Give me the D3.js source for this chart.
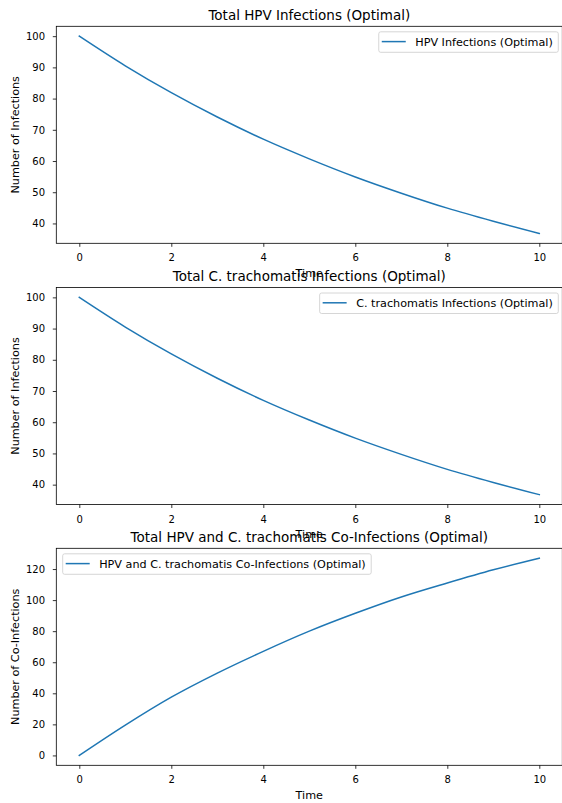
<!DOCTYPE html>
<html lang="en">
<head>
<meta charset="utf-8">
<title>Optimal infections</title>
<script src="https://d3js.org/d3.v7.min.js"></script>
<style>
  body { margin: 0; background: #fff; }
  text { font-family: "DejaVu Sans", sans-serif; fill: #000; }
</style>
</head>
<body>
<script>
// values
var times = [0, 1, 2, 3, 4, 5, 6, 7, 8, 9, 10];
var hpvValues = [100, 90.5, 81.9, 74.1, 67.0, 60.7, 54.9, 49.7, 44.9, 40.7, 36.8];
var ctValues = [100, 90.5, 81.9, 74.1, 67.0, 60.7, 54.9, 49.7, 44.9, 40.7, 36.8];
var coValues = [0, 19.5, 37.5, 53.0, 67.0, 80.0, 91.5, 102.0, 111.0, 119.5, 127.0];

var xTicks = [0, 2, 4, 6, 8, 10];
var infTicks = [40, 50, 60, 70, 80, 90, 100];
var coTicks = [0, 20, 40, 60, 80, 100, 120];

var titles = ["Total HPV Infections (Optimal)",
              "Total C. trachomatis Infections (Optimal)",
              "Total HPV and C. trachomatis Co-Infections (Optimal)"];
var legendLabels = ["HPV Infections (Optimal)",
                    "C. trachomatis Infections (Optimal)",
                    "HPV and C. trachomatis Co-Infections (Optimal)"];
var yLabels = ["Number of Infections", "Number of Infections", "Number of Co-Infections"];

var width = 562, height = 803;
var left = 56.3, right = 562.3, panelH = 217;
var tops = [26.3, 287.5, 548.3];
var blue = "#1f77b4";
var labelSize = 11.2, titleSize = 13.5, tickSize = 10;

var svg = d3.select("body").append("svg")
    .attr("width", width)
    .attr("height", height);

var panels = [
  { values: hpvValues, ticks: infTicks, legend: "right" },
  { values: ctValues, ticks: infTicks, legend: "right" },
  { values: coValues, ticks: coTicks, legend: "left" }
];

var x = d3.scaleLinear().domain([-0.5, 10.5]).range([left, right]);

panels.forEach(function(p, i) {
  var top = tops[i], bottom = top + panelH;
  var ext = d3.extent(p.values), pad = (ext[1] - ext[0]) * 0.05;
  var y = d3.scaleLinear().domain([ext[0] - pad, ext[1] + pad]).range([bottom, top]);

  var g = svg.append("g");

  // the curve
  var line = d3.line()
      .x(function(d, j) { return x(times[j]); })
      .y(function(d) { return y(d); })
      .curve(d3.curveMonotoneX);

  g.append("path")
      .datum(p.values)
      .attr("fill", "none")
      .attr("stroke", blue)
      .attr("stroke-width", 1.5)
      .attr("stroke-linecap", "square")
      .attr("d", line);

  // axes
  var xAxis = g.append("g")
      .attr("transform", "translate(0," + bottom + ")")
      .call(d3.axisBottom(x).tickValues(xTicks).tickSize(3.5).tickPadding(7.5).tickFormat(d3.format("d")));
  var yAxis = g.append("g")
      .attr("transform", "translate(" + left + ",0)")
      .call(d3.axisLeft(y).tickValues(p.ticks).tickSize(3.5).tickPadding(7.8).tickFormat(d3.format("d")));

  [xAxis, yAxis].forEach(function(a) {
    a.select(".domain").remove();
    a.selectAll("line").attr("stroke", "#000").attr("stroke-width", 0.8);
    a.selectAll("text").attr("font-family", "DejaVu Sans").attr("font-size", tickSize).attr("fill", "#000");
  });

  // spines
  g.append("rect")
      .attr("x", left).attr("y", top)
      .attr("width", right - left).attr("height", panelH)
      .attr("fill", "none")
      .attr("stroke", "#000")
      .attr("stroke-width", 0.8);

  // title and labels
  g.append("text")
      .attr("x", (left + right) / 2).attr("y", top - 6.8)
      .attr("text-anchor", "middle")
      .attr("font-size", titleSize)
      .text(titles[i]);

  g.append("text")
      .attr("x", (left + right) / 2).attr("y", bottom + 33.5)
      .attr("text-anchor", "middle")
      .attr("font-size", labelSize)
      .text("Time");

  g.append("text")
      .attr("transform", "translate(18.5," + (top + panelH / 2) + ") rotate(-90)")
      .attr("text-anchor", "middle")
      .attr("font-size", labelSize)
      .text(yLabels[i]);

  // legend
  var lg = g.append("g");
  var box = lg.append("rect")
      .attr("fill", "#fff").attr("fill-opacity", 0.8)
      .attr("stroke", "#cccccc").attr("stroke-width", 0.8)
      .attr("rx", 2);
  var lt = lg.append("text")
      .attr("font-size", labelSize)
      .text(legendLabels[i]);
  var tw = lt.node().getComputedTextLength();
  var bw = 3 + 24 + 9.5 + tw + 5.5, bh = 20.5;
  var bx = p.legend === "right" ? right - 4 - bw : left + 6.4;
  var by = top + 5.5;
  box.attr("x", bx).attr("y", by).attr("width", bw).attr("height", bh);
  lg.append("line")
      .attr("x1", bx + 3).attr("x2", bx + 3 + 24)
      .attr("y1", by + 9.8).attr("y2", by + 9.8)
      .attr("stroke", blue).attr("stroke-width", 1.5);
  lt.attr("x", bx + 3 + 24 + 9.5).attr("y", by + 14);
});
</script>
</body>
</html>
